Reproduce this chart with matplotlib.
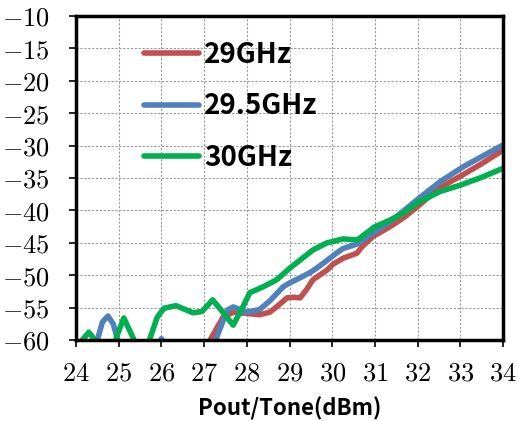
import numpy as np
import matplotlib
matplotlib.use("Agg")
import matplotlib.pyplot as plt
from matplotlib.ticker import FuncFormatter

plt.rcParams['mathtext.fontset'] = 'cm'

# 29GHz
x_29 = [26.9, 27.14, 27.45, 27.7, 28.0, 28.3, 28.54, 28.75, 28.94, 29.1, 29.25, 29.4, 29.55, 29.88,
        30.02, 30.25, 30.58, 30.7, 30.96, 31.2, 31.43, 31.7, 31.98, 32.52, 33.06, 33.5, 34.0]
y_29 = [-63.0, -60.0, -56.4, -55.7, -55.9, -56.1, -55.7, -54.6, -53.5, -53.4, -53.5, -52.2, -50.7, -49.2,
        -48.3, -47.4, -46.6, -45.6, -44.0, -43.1, -42.2, -41.0, -39.5, -36.5, -34.5, -32.8, -30.7]

# 29.5GHz
x_295 = [24.35, 24.5, 24.62, 24.75, 24.87, 24.98, 25.1,
         25.85, 26.0, 26.15,
         27.15, 27.3, 27.54, 27.68, 28.0, 28.3, 28.55, 28.85, 29.0, 29.25, 29.48, 29.64, 29.9, 30.1,
         30.25, 30.58, 30.75, 31.0, 31.25, 31.5, 31.98, 32.52, 33.06, 33.5, 34.0]
y_295 = [-63.0, -60.0, -57.2, -56.3, -57.5, -60.0, -63.0,
         -61.5, -59.8, -61.5,
         -63.0, -59.5, -55.4, -54.9, -55.7, -55.3, -53.9, -51.8, -51.2, -50.4, -49.6, -48.9, -47.6, -46.6,
         -45.9, -45.2, -44.4, -43.3, -42.2, -41.0, -38.4, -35.6, -33.3, -31.7, -29.9]

# 30GHz
x_30 = [24.05, 24.15, 24.3, 24.47, 24.6,
        24.82, 24.95, 25.12, 25.36, 25.5,
        25.6, 25.72, 25.9, 26.06, 26.34, 26.74, 26.95, 27.2, 27.45, 27.68, 27.9, 28.07, 28.38, 28.7,
        29.01, 29.55, 29.88, 30.02, 30.25, 30.45, 30.6, 30.8, 30.98, 31.35, 31.7, 31.98, 32.52,
        33.0, 33.5, 34.0]
y_30 = [-63.0, -60.0, -58.8, -60.2, -63.0,
        -63.0, -59.5, -56.6, -60.0, -63.0,
        -63.0, -60.0, -56.5, -55.1, -54.7, -55.8, -55.6, -53.8, -55.8, -57.7, -55.0, -52.7, -51.8, -50.7,
        -48.9, -46.1, -45.0, -44.8, -44.4, -44.5, -44.5, -43.5, -42.6, -41.5, -40.3, -38.9, -37.1,
        -36.1, -34.9, -33.5]

series = [
    ("29GHz", x_29, y_29, "#C0504D"),
    ("29.5GHz", x_295, y_295, "#4F81BD"),
    ("30GHz", x_30, y_30, "#00B050"),
]

fig = plt.figure(figsize=(5.19, 4.21), dpi=100)
ax = fig.add_axes([76 / 519, 1 - 340 / 421, 427 / 519, 324 / 421])

for label, xs, ys, color in series:
    ax.plot(xs, ys, color=color, lw=4, label=label, solid_capstyle='round', solid_joinstyle='round')

ax.set_xlim(24, 34)
ax.set_ylim(-60, -10)
ax.set_xticks(np.arange(24, 35, 1))
ax.set_yticks(np.arange(-60, -9, 5))
ax.xaxis.set_major_formatter(FuncFormatter(lambda v, p: f"${v:.0f}$"))
ax.yaxis.set_major_formatter(FuncFormatter(lambda v, p: f"${v:.0f}$"))
ax.tick_params(axis='both', direction='out', length=5, width=1.2, labelsize=19)
ax.tick_params(axis='x', pad=10)
ax.tick_params(axis='y', pad=14)
ax.grid(True, color='#999999', ls=(0, (2, 1.5)), lw=0.8)
for s in ax.spines.values():
    s.set_linewidth(2.5)

ax.set_xlabel("Pout/Tone(dBm)", family=['Noto Sans CJK JP', 'DejaVu Sans'],
              fontsize=16, fontweight='bold', labelpad=7)

leg = ax.legend(loc='upper left', bbox_to_anchor=(0.10, 1.0), frameon=False,
                prop={'family': ['Noto Sans CJK JP', 'DejaVu Sans'], 'weight': 'bold', 'size': 20},
                handlelength=2.0, handletextpad=0.18, labelspacing=0.84)

fig.savefig("out.png", dpi=100)
